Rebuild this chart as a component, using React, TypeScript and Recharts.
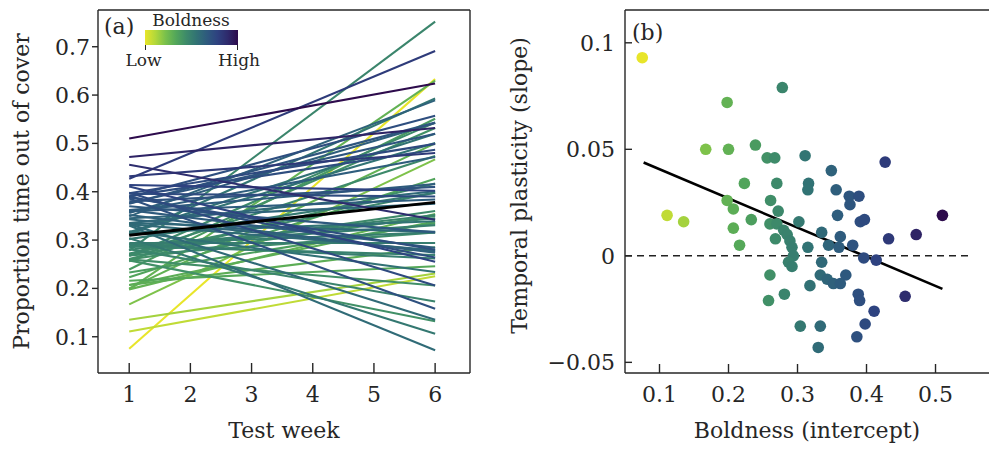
import { LineChart, Line, XAxis, YAxis, ScatterChart, Scatter, ReferenceLine, Label } from 'recharts';

// ticks
const WEEK_TICKS = [1, 2, 3, 4, 5, 6];
const PROP_TICKS = [0.1, 0.2, 0.3, 0.4, 0.5, 0.6, 0.7];
const BOLD_TICKS = [0.1, 0.2, 0.3, 0.4, 0.5];
const SLOPE_TICKS = [-0.05, 0, 0.05, 0.1];

// one entry per fish: boldness intercept (x) and temporal slope (y)
const INTERCEPT = [
  0.075, 0.278, 0.198, 0.167, 0.2, 0.239, 0.256, 0.267, 0.311, 0.427,
  0.349, 0.223, 0.27, 0.316, 0.315, 0.356, 0.375, 0.389, 0.376, 0.198,
  0.207, 0.261, 0.272, 0.111, 0.135, 0.233, 0.26, 0.27, 0.302, 0.358,
  0.391, 0.397, 0.51, 0.207, 0.216, 0.268, 0.28, 0.285, 0.289, 0.292,
  0.294, 0.287, 0.292, 0.315, 0.335, 0.345, 0.362, 0.36, 0.38, 0.432,
  0.472, 0.335, 0.396, 0.414, 0.26, 0.333, 0.343, 0.352, 0.362, 0.37,
  0.318, 0.281, 0.258, 0.388, 0.39, 0.456, 0.411, 0.398, 0.304, 0.333,
  0.386, 0.33,
];
const SLOPE = [
  0.093, 0.079, 0.072, 0.05, 0.05, 0.052, 0.046, 0.046, 0.047, 0.044,
  0.04, 0.034, 0.034, 0.034, 0.031, 0.031, 0.028, 0.028, 0.024, 0.026,
  0.022, 0.026, 0.021, 0.019, 0.016, 0.017, 0.015, 0.015, 0.016, 0.019,
  0.016, 0.017, 0.019, 0.013, 0.005, 0.008, 0.012, 0.01, 0.007, 0.004,
  0.0, -0.003, -0.005, 0.004, 0.011, 0.005, 0.009, 0.004, 0.005, 0.008,
  0.01, -0.003, -0.001, -0.002, -0.009, -0.009, -0.011, -0.013, -0.013, -0.009,
  -0.014, -0.018, -0.021, -0.018, -0.021, -0.019, -0.026, -0.032, -0.033, -0.033,
  -0.038, -0.043,
];
// change from week 1 to week 6 in panel (a) is about 6x the slope shown in (b)
const SPAN_GAIN = 6;

const MEAN_WEEKS = [1, 6];
const MEAN_PROP = [0.31, 0.378];
const REG_X = [0.077, 0.51];
const REG_Y = [0.0438, -0.0155];
const ZERO_X = [0.05, 0.551];

// reversed viridis, a bit muted like the print
const COLOR_STOPS = ['#e8e52a', '#b2d83a', '#78c04c', '#52a65a', '#3d8a6a', '#317274', '#2e5a7e', '#2e4280', '#2e2a6c', '#2d0b4c'];
const BOLD_MIN = 0.075;
const BOLD_MAX = 0.51;

const AX = '#262626';
const TXT = '#262626';
const FONT = "'DejaVu Serif', serif";

const hex = (c: string) => [1, 3, 5].map((i) => parseInt(c.slice(i, i + 2), 16));
function boldColor(v: number) {
  const t = Math.min(1, Math.max(0, (v - BOLD_MIN) / (BOLD_MAX - BOLD_MIN)));
  const pos = t * (COLOR_STOPS.length - 1);
  const i = Math.min(COLOR_STOPS.length - 2, Math.floor(pos));
  const f = pos - i;
  const a = hex(COLOR_STOPS[i]);
  const b = hex(COLOR_STOPS[i + 1]);
  const m = a.map((x, k) => Math.round(x + (b[k] - x) * f));
  return `rgb(${m[0]},${m[1]},${m[2]})`;
}

const fishLines = INTERCEPT.map((b, i) => ({
  color: boldColor(b),
  data: [
    { week: 1, value: b },
    { week: 6, value: b + SLOPE[i] * SPAN_GAIN },
  ],
}));
const meanData = MEAN_WEEKS.map((w, i) => ({ week: w, value: MEAN_PROP[i] }));
const points = INTERCEPT.map((b, i) => ({ bold: b, slope: SLOPE[i], color: boldColor(b) }));

const xTitle = (text: string) => (props: any) => {
  const vb = props.viewBox;
  return (
    <text x={vb.x + vb.width / 2} y={vb.y + 65} textAnchor="middle" fontSize={22} fill={TXT} fontFamily={FONT}>
      {text}
    </text>
  );
};
const yTitle = (text: string, bx: number, shift: number) => (props: any) => {
  const vb = props.viewBox;
  const cy = vb.y + vb.height / 2 + shift;
  return (
    <text transform={`translate(${vb.x + bx},${cy}) rotate(-90)`} textAnchor="middle" fontSize={22} fill={TXT} fontFamily={FONT}>
      {text}
    </text>
  );
};

const fmtSlope = (v: number) => (v < 0 ? '\u2212' + String(-v) : String(v));
const tickStyle = { fontSize: 22, fill: TXT, fontFamily: FONT };
const axisLine = { stroke: AX, strokeWidth: 1.4 };

export default function App() {
  return (
    <div style={{ position: 'absolute', left: 0, top: 0, width: 989, height: 449, overflow: 'hidden', background: '#fff', fontFamily: FONT }}>
      <div style={{ position: 'absolute', left: 0, top: 0 }}>
        <LineChart width={480} height={449} margin={{ top: 10, right: 10, bottom: 16, left: 0 }}>
          <XAxis
            type="number"
            dataKey="week"
            domain={[0.49, 6.57]}
            ticks={WEEK_TICKS}
            allowDataOverflow
            height={60}
            tickSize={-10}
            tickMargin={23}
            axisLine={axisLine}
            tickLine={axisLine}
            tick={tickStyle}
          >
            <Label content={xTitle('Test week')} />
          </XAxis>
          <YAxis
            type="number"
            domain={[0.025, 0.776]}
            ticks={PROP_TICKS}
            allowDataOverflow
            width={98}
            tickSize={6}
            tickMargin={2}
            axisLine={axisLine}
            tickLine={axisLine}
            tick={tickStyle}
          >
            <Label content={yTitle('Proportion time out of cover', 28.5, 0)} />
          </YAxis>
          <ReferenceLine y={0.776} stroke={AX} strokeWidth={1.4} ifOverflow="visible" />
          <ReferenceLine x={6.57} stroke={AX} strokeWidth={1.4} ifOverflow="visible" />
          {fishLines.map((l, i) => (
            <Line
              key={`fish-${i}`}
              data={l.data}
              dataKey="value"
              stroke={l.color}
              strokeWidth={2.1}
              dot={false}
              activeDot={false}
              isAnimationActive={false}
            />
          ))}
          <Line data={meanData} dataKey="value" stroke="#000" strokeWidth={3} dot={false} activeDot={false} isAnimationActive={false} />
        </LineChart>
      </div>

      <div style={{ position: 'absolute', left: 500, top: 0 }}>
        <ScatterChart width={489} height={449} margin={{ top: 10, right: 0, bottom: 16, left: 0 }}>
          <XAxis
            type="number"
            dataKey="bold"
            domain={[0.05, 0.5775]}
            ticks={BOLD_TICKS}
            allowDataOverflow
            height={60}
            tickSize={-9}
            tickMargin={22}
            axisLine={axisLine}
            tickLine={axisLine}
            tick={tickStyle}
          >
            <Label content={xTitle('Boldness (intercept)')} />
          </XAxis>
          <YAxis
            type="number"
            dataKey="slope"
            domain={[-0.055, 0.1154]}
            ticks={SLOPE_TICKS}
            tickFormatter={fmtSlope}
            allowDataOverflow
            width={125}
            tickSize={-7}
            tickMargin={17}
            axisLine={axisLine}
            tickLine={axisLine}
            tick={tickStyle}
          >
            <Label content={yTitle('Temporal plasticity (slope)', 27, -6)} />
          </YAxis>
          <ReferenceLine y={0.1154} stroke={AX} strokeWidth={1.4} ifOverflow="visible" />
          <ReferenceLine
            segment={[{ x: ZERO_X[0], y: 0 }, { x: ZERO_X[1], y: 0 }]}
            stroke="#222"
            strokeWidth={1.5}
            strokeDasharray="7 5"
          />
          <Scatter
            data={points}
            isAnimationActive={false}
            shape={(p: any) => <circle cx={p.cx} cy={p.cy} r={5.8} fill={p.payload.color} />}
          />
          <ReferenceLine
            segment={[{ x: REG_X[0], y: REG_Y[0] }, { x: REG_X[1], y: REG_Y[1] }]}
            stroke="#000"
            strokeWidth={2.6}
          />
        </ScatterChart>
      </div>

      <svg width={989} height={449} style={{ position: 'absolute', left: 0, top: 0, pointerEvents: 'none' }} fontFamily={FONT}>
        <defs>
          <linearGradient id="boldGrad" x1="0" x2="1" y1="0" y2="0">
            {COLOR_STOPS.map((c, i) => (
              <stop key={c} offset={i / (COLOR_STOPS.length - 1)} stopColor={c} />
            ))}
          </linearGradient>
        </defs>
        <text x={104} y={34} fontSize={22} fill={TXT}>(a)</text>
        <text x={632} y={40} fontSize={22} fill={TXT}>(b)</text>
        <text x={191} y={26} fontSize={17} fill={TXT} textAnchor="middle">Boldness</text>
        <rect x={145} y={30} width={93} height={15} fill="url(#boldGrad)" />
        <line x1={145.5} y1={45} x2={145.5} y2={50} stroke={AX} strokeWidth={1} />
        <line x1={237.5} y1={45} x2={237.5} y2={50} stroke={AX} strokeWidth={1} />
        <text x={143.5} y={66} fontSize={17} fill={TXT} textAnchor="middle">Low</text>
        <text x={239} y={66} fontSize={17} fill={TXT} textAnchor="middle">High</text>
      </svg>
    </div>
  );
}
